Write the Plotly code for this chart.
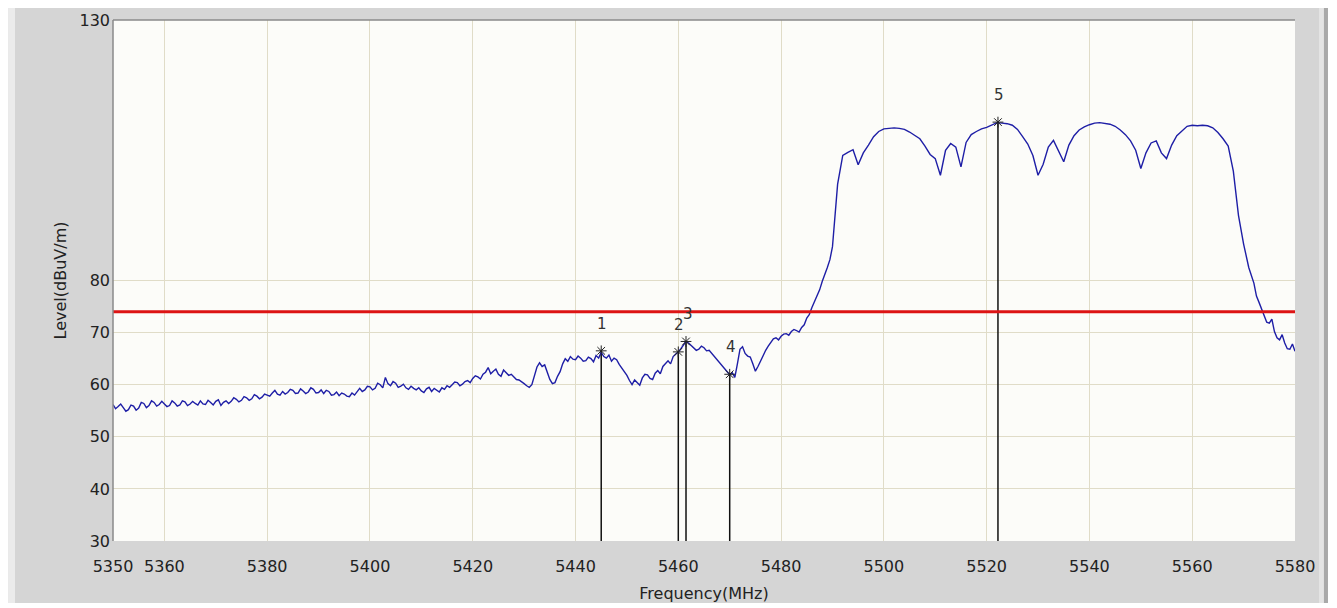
import plotly.graph_objects as go

# ---- data ----
# level at every whole MHz, 5350 ... 5580
freq_start = 5350
levels = [
    56.2, 55.8, 55.6, 55.2, 55.9, 55.5, 56.4, 56.0, 56.6, 56.2,  # 5350-5359
    56.3, 56.0, 56.5, 56.1, 56.7, 56.3, 56.4, 56.9, 56.2, 56.6,  # 5360-5369
    56.8, 56.0, 56.9, 56.8, 57.2, 57.0, 57.5, 57.3, 57.8, 57.6,  # 5370-5379
    58.0, 58.4, 58.2, 58.7, 58.5, 58.9, 58.4, 58.8, 58.6, 59.1,  # 5380-5389
    58.5, 58.3, 58.7, 58.1, 57.9, 58.2, 57.7, 58.0, 59.3, 59.0,  # 5390-5399
    59.6, 59.3, 60.0, 61.4, 59.8, 60.3, 59.7, 59.4, 59.7, 59.0,  # 5400-5409
    58.8, 59.2, 58.7, 59.0, 59.4, 59.8, 60.0, 60.4, 60.1, 60.8,  # 5410-5419
    61.2, 61.5, 62.0, 63.3, 62.6, 62.0, 62.8, 61.8, 61.4, 60.9,  # 5420-5429
    60.2, 59.5, 61.5, 64.2, 63.8, 61.0, 60.4, 62.5, 65.0, 65.4,  # 5430-5439
    64.8, 65.1, 64.6, 65.0, 65.6, 66.2, 65.1, 64.5, 64.8, 63.2,  # 5440-5449
    61.8, 60.0, 60.4, 61.3, 61.9, 61.0, 62.7, 63.5, 64.6, 65.4,  # 5450-5459
    66.3, 67.6, 68.0, 67.2, 66.8, 67.1, 66.6, 65.4, 64.4, 63.2,  # 5460-5469
    61.9, 61.4, 66.8, 66.0, 65.3, 62.6, 64.5, 66.6, 68.2, 69.0,  # 5470-5479
    69.3, 69.8, 70.2, 70.4, 71.0, 72.8, 74.8, 77.0, 79.8, 82.5,  # 5480-5489
    86.5, 98.5, 104.0, 104.6, 105.1, 102.2, 104.5, 106.0, 107.6, 108.6,  # 5490-5499
    109.1, 109.2, 109.3, 109.2, 109.0, 108.5, 107.9, 107.2, 105.8, 104.2,  # 5500-5509
    103.4, 100.2, 105.0, 106.3, 105.6, 101.8, 106.5, 108.0, 108.6, 109.1,  # 5510-5519
    109.4, 109.8, 110.3, 110.2, 110.1, 109.8, 109.0, 107.6, 106.2, 104.0,  # 5520-5529
    100.2, 102.3, 105.6, 106.9, 104.8, 102.8, 106.0, 107.8, 108.9, 109.5,  # 5530-5539
    109.9, 110.2, 110.3, 110.2, 110.0, 109.6, 108.9, 108.0, 106.8, 105.0,  # 5540-5549
    101.5, 104.5, 106.4, 106.8, 104.5, 103.4, 106.0, 107.8, 108.8, 109.6,  # 5550-5559
    109.8, 109.7, 109.8, 109.7, 109.3, 108.4, 107.2, 105.8, 101.0, 92.5,  # 5560-5569
    87.0, 82.5, 79.5, 75.8, 73.0, 71.8, 70.2, 68.6, 68.0, 66.8,  # 5570-5579
    66.4,  # 5580
]

# extra readings at the half-MHz points in the noisy stretches
half_start_low = 5350.5
levels_half_low = [
    55.4, 56.3, 54.9, 56.1, 55.1, 56.6, 55.6, 56.9, 55.9, 56.8,  # 5350.5-5359.5
    55.8, 56.9, 55.9, 56.9, 56.0, 56.8, 56.1, 56.3, 57.0, 56.1,  # 5360.5-5369.5
    57.1, 56.6, 56.4, 57.5, 56.7, 57.7, 57.0, 58.1, 57.3, 58.2,  # 5370.5-5379.5
    57.8, 58.9, 58.0, 58.2, 59.1, 58.3, 59.2, 58.3, 59.4, 58.4,  # 5380.5-5389.5
    59.0, 58.9, 58.0, 58.6, 58.4, 57.8, 58.4, 58.6, 58.7, 59.7,  # 5390.5-5399.5
    59.0, 60.3, 59.4, 60.2, 60.6, 59.5, 60.1, 59.1, 59.3, 59.4,  # 5400.5-5409.5
    58.5, 59.5, 59.3, 58.6, 59.1, 59.5, 60.5, 59.8, 60.6, 60.4,  # 5410.5-5419.5
    61.7, 61.1, 62.4, 62.1, 63.0, 61.6, 62.2, 62.0, 61.0, 60.6,  # 5420.5-5429.5
    59.8, 60.0, 63.4, 63.5, 62.4, 60.2, 61.6, 64.0, 64.5, 64.9,  # 5430.5-5439.5
    65.5, 64.5, 65.3, 64.4, 65.1, 65.4, 65.7, 65.1, 63.9, 62.6,  # 5440.5-5449.5
    60.8, 60.9, 59.9, 62.0, 61.2, 62.2, 62.1, 64.1, 64.0, 65.9,  # 5450.5-5459.5
    66.9, 68.3, 67.5, 66.6, 67.4, 66.5, 66.0, 64.9, 63.8, 62.6,  # 5460.5-5469.5
    62.3, 64.0, 67.3, 65.5, 64.0, 63.5, 65.8, 67.4, 68.8, 68.6,  # 5470.5-5479.5
    69.7, 69.5, 70.6, 70.1, 71.5, 73.5, 76.0, 78.2, 81.0, 84.0,  # 5480.5-5489.5
]
half_start_high = 5572.5
levels_half_high = [77.0, 74.5, 72.0, 72.6, 69.0, 69.6, 66.9, 67.8]  # 5572.5-5579.5

limit_level = 74

marker_labels = ["1", "2", "3", "4", "5"]
marker_freqs = [5445.0, 5460.0, 5461.5, 5470.0, 5522.2]
marker_levels = [66.5, 66.3, 68.3, 62.0, 110.4]

x_ticks = [5350, 5360, 5380, 5400, 5420, 5440, 5460, 5480, 5500, 5520, 5540, 5560, 5580]
y_ticks = [30, 40, 50, 60, 70, 80, 130]

x_range = [5350, 5580]
y_range = [30, 130]

# ---- assemble the trace ----
points = [(freq_start + i, v) for i, v in enumerate(levels)]
points += [(half_start_low + i, v) for i, v in enumerate(levels_half_low)]
points += [(half_start_high + i, v) for i, v in enumerate(levels_half_high)]
points.sort()
frequencies = [p[0] for p in points]
trace_levels = [p[1] for p in points]

# ---- figure ----
fig = go.Figure()

for f, lv in zip(marker_freqs, marker_levels):
    fig.add_trace(go.Scatter(
        x=[f, f], y=[y_range[0], lv], mode="lines",
        line=dict(color="#111111", width=1.5), hoverinfo="skip", showlegend=False))

fig.add_trace(go.Scatter(
    x=frequencies, y=trace_levels, mode="lines",
    line=dict(color="#1e1ea6", width=1.4), showlegend=False, name="Level"))

fig.add_trace(go.Scatter(
    x=x_range, y=[limit_level, limit_level], mode="lines",
    line=dict(color="#dd1414", width=3), showlegend=False, name="Limit"))

fig.add_trace(go.Scatter(
    x=marker_freqs, y=marker_levels, mode="markers",
    marker=dict(symbol="asterisk-open", size=9, color="#222222",
                line=dict(color="#222222", width=1)),
    showlegend=False))

for lab, f, lv in zip(marker_labels, marker_freqs, marker_levels):
    fig.add_annotation(x=f, y=lv, text=lab, showarrow=False, yshift=27,
                       xshift=2 if lab == "3" else 1,
                       font=dict(family="DejaVu Sans", size=15, color="#333333"))

# window chrome: plot frame (left/top) and panel bevels
shapes = [
    dict(type="line", xref="paper", yref="paper", x0=0, x1=1, y0=1, y1=1,
         line=dict(color="#8a8a8a", width=1.5)),
    dict(type="line", xref="paper", yref="paper", x0=0, x1=0, y0=0, y1=1,
         line=dict(color="#8a8a8a", width=1.5)),
    dict(type="rect", xref="paper", yref="paper", x0=-0.0888, x1=-0.0829, y0=-0.119, y1=1.023,
         fillcolor="#ebebeb", line=dict(width=0)),
    dict(type="rect", xref="paper", yref="paper", x0=1.0203, x1=1.0245, y0=-0.119, y1=1.023,
         fillcolor="#e4e4e4", line=dict(width=0)),
    dict(type="rect", xref="paper", yref="paper", x0=1.0245, x1=1.0279, y0=-0.119, y1=1.023,
         fillcolor="#a9a9a9", line=dict(width=0)),
]
fig.update_layout(shapes=shapes)

tick_font = dict(family="DejaVu Sans", size=16, color="#222222")
title_font = dict(family="DejaVu Sans", size=16, color="#222222")

fig.update_layout(
    width=1320, height=595,
    margin=dict(l=105, r=33, t=12, b=62),
    paper_bgcolor="#d5d5d5",
    plot_bgcolor="#fcfcf9",
    xaxis=dict(
        range=x_range, tickmode="array", tickvals=x_ticks,
        ticktext=[str(t) for t in x_ticks], automargin=False,
        showgrid=True, gridcolor="#e0dcc8", gridwidth=1,
        zeroline=False, showline=False, ticks="",
        tickfont=tick_font, ticklabelstandoff=14,
        title=dict(text="Frequency(MHz)", font=title_font, standoff=15),
    ),
    yaxis=dict(
        range=y_range, tickmode="array", tickvals=y_ticks,
        ticktext=[str(t) for t in y_ticks], automargin=False,
        showgrid=True, gridcolor="#e0dcc8", gridwidth=1,
        zeroline=False, showline=False, ticks="",
        tickfont=tick_font, ticklabelstandoff=2,
        title=dict(text="Level(dBuV/m)", font=title_font, standoff=8),
    ),
)

fig.write_html("out.html")
